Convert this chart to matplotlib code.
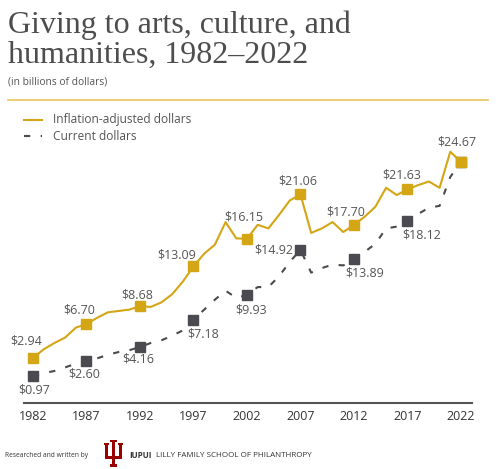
import numpy as np
import matplotlib
matplotlib.use("Agg")
import matplotlib.pyplot as plt
from matplotlib.patches import Polygon

# data (billions of dollars)
years = list(range(1982, 2023))
inflation_adjusted = [2.94, 3.9, 4.6, 5.2, 6.3, 6.70, 7.4, 8.0, 8.15, 8.3,
                      8.68, 8.6, 9.1, 10.0, 11.4, 13.09, 14.5, 15.5, 18.0, 16.2,
                      16.15, 17.7, 17.3, 18.8, 20.4, 21.06, 16.8, 17.3, 18.0, 16.9,
                      17.70, 18.6, 19.7, 21.8, 21.0, 21.63, 22.1, 22.5, 21.8, 25.8,
                      24.67]
current = [0.97, 1.25, 1.5, 1.9, 2.3, 2.60, 2.9, 3.3, 3.6, 3.8,
           4.16, 4.6, 4.9, 5.4, 6.0, 7.18, 8.3, 9.4, 10.4, 9.6,
           9.93, 10.8, 10.8, 12.0, 13.6, 14.92, 12.4, 12.9, 13.3, 13.2,
           13.89, 14.7, 15.6, 17.3, 17.5, 18.12, 18.9, 19.6, 19.8, 23.0,
           24.67]
label_years = [1982, 1987, 1992, 1997, 2002, 2007, 2012, 2017, 2022]
tick_labels = [str(y) for y in label_years]

gold = "#D4A514"
dark = "#4A4A50"
text_grey = "#555555"

fig = plt.figure(figsize=(5, 4.69), dpi=100)
ax = fig.add_axes([0.048, 0.1407, 0.896, 0.5608])

adj = dict(zip(years, inflation_adjusted))
cur = dict(zip(years, current))

ax.plot(years, inflation_adjusted, color=gold, lw=1.5, zorder=3)
ax.plot(years, current, color=dark, lw=1.5, ls=(0, (3, 5)), zorder=2)
ax.plot(label_years, [cur[y] for y in label_years], "s", color=dark, ms=6.5, zorder=4)
ax.plot(label_years, [adj[y] for y in label_years], "s", color=gold, ms=6.5, zorder=5)

lab_font = dict(family="Open Sans", fontsize=9, color=text_grey)

# label offsets in points (dx, dy)
adj_off = [(-5, 12), (-5, 10), (-2, 8), (-12, 8), (-2, 16), (-2, 10), (-6, 9), (-4, 10), (-3, 14)]
cur_off = [(1, -10), (-2, -9), (-1, -9), (7, -10), (3, -11), (None, 0), (8, -10), (10, -10), None]

for y, (dx, dy) in zip(label_years, adj_off):
    ax.annotate(f"${adj[y]:.2f}", (y, adj[y]), xytext=(dx, dy), textcoords="offset points",
                ha="center", va="center", **lab_font)
for y, off in zip(label_years, cur_off):
    if off is None:
        continue
    dx, dy = off
    if dx is None:
        ax.annotate(f"${cur[y]:.2f}", (y, cur[y]), xytext=(-5, 0), textcoords="offset points",
                    ha="right", va="center", **lab_font)
    else:
        ax.annotate(f"${cur[y]:.2f}", (y, cur[y]), xytext=(dx, dy), textcoords="offset points",
                    ha="center", va="center", **lab_font)

ax.set_xlim(1981.16, 2023.03)
ax.set_ylim(-2.05, 27.1)
for s in ["top", "right", "left"]:
    ax.spines[s].set_visible(False)
ax.spines["bottom"].set_color("#555555")
ax.spines["bottom"].set_linewidth(1.5)
ax.set_yticks([])
ax.set_xticks(label_years)
ax.set_xticklabels(tick_labels, family="Open Sans", fontsize=9, color="#333333")
ax.tick_params(axis="x", length=0, pad=5)
ax.patch.set_alpha(0)

# title block
fig.text(0.016, 1 - 33 / 469, "Giving to arts, culture, and", family="Liberation Serif",
         fontsize=23, color="#4d4d4d", va="baseline")
fig.text(0.016, 1 - 63 / 469, "humanities, 1982\u20132022", family="Liberation Serif",
         fontsize=23, color="#4d4d4d", va="baseline")
fig.text(0.016, 1 - 82 / 469, "(in billions of dollars)", family="Open Sans",
         fontsize=7.4, color=text_grey, va="center")
fig.add_artist(plt.Line2D([8 / 500, 488 / 500], [1 - 100 / 469] * 2, color="#E8C55A", lw=1.2))

# legend
fig.add_artist(plt.Line2D([24 / 500, 42 / 500], [1 - 120 / 469] * 2, color=gold, lw=1.5))
fig.add_artist(plt.Line2D([24 / 500, 42 / 500], [1 - 136 / 469] * 2, color=dark, lw=1.5,
                          ls=(0, (3, 5))))
fig.text(53 / 500, 1 - 120 / 469, "Inflation-adjusted dollars", family="Open Sans",
         fontsize=8.6, color=text_grey, va="center")
fig.text(53 / 500, 1 - 136 / 469, "Current dollars", family="Open Sans",
         fontsize=8.6, color=text_grey, va="center")

# footer
fig.text(5 / 500, 1 - 455 / 469, "Researched and written by", family="Open Sans",
         fontsize=4.8, color="#333333", va="center")
fig.text(129 / 500, 1 - 455 / 469, "IUPUI", family="Open Sans", fontweight="bold",
         fontsize=5.8, color="#333333", va="center")
fig.text(156 / 500, 1 - 455 / 469, "LILLY FAMILY SCHOOL OF PHILANTHROPY",
         family="Open Sans", fontsize=5.8, color="#333333", va="center")

# IU trident logo (pixel units -> figure fraction)
logo_px = [(104, 443), (109, 443), (109, 445), (108, 445), (108, 456), (112, 456),
           (112, 442), (110, 442), (110, 440), (117, 440), (117, 442), (115, 442),
           (115, 456), (119, 456), (119, 445), (118, 445), (118, 443), (123, 443),
           (123, 445), (122, 445), (122, 459), (115, 459), (115, 464), (117, 464),
           (117, 467), (110, 467), (110, 464), (112, 464), (112, 459), (105, 459),
           (105, 445), (104, 445)]
logo = Polygon([(x / 500, 1 - y / 469) for x, y in logo_px], closed=True,
               transform=fig.transFigure, facecolor="#990000", edgecolor="none")
fig.add_artist(logo)

fig.savefig("out.png", dpi=100)
